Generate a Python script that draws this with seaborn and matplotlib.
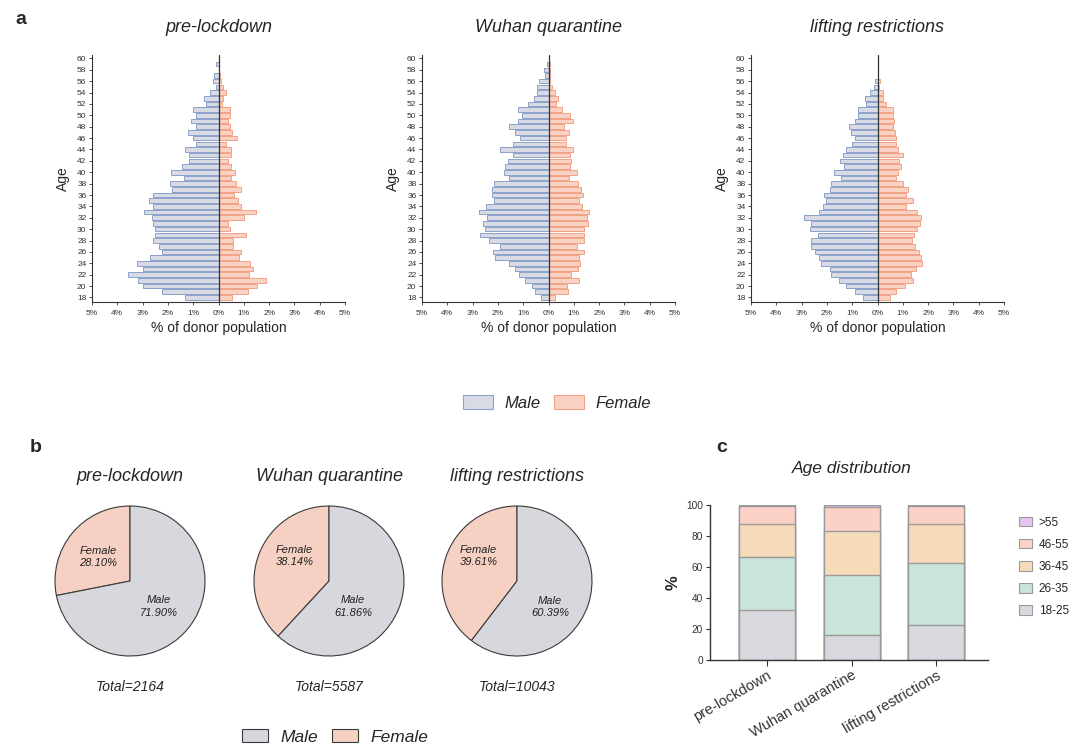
import numpy as np
import seaborn as sns
import matplotlib.pyplot as plt
from matplotlib.patches import Patch

# ---------------- data ----------------
ages = list(range(18, 61))
periods = ['pre-lockdown', 'Wuhan quarantine', 'lifting restrictions']

# % of donor population per age, 18 -> 60
pre_male = [1.32, 2.22, 2.99, 3.17, 3.58, 2.99, 3.21, 2.71, 2.25, 2.34,
            2.57, 2.50, 2.50, 2.57, 2.62, 2.96, 2.57, 2.75, 2.59, 1.83,
            1.93, 1.38, 1.86, 1.43, 1.16, 1.16, 1.32, 0.89, 1.01, 1.21,
            0.87, 1.10, 0.89, 1.01, 0.49, 0.59, 0.32, 0.08, 0.22, 0.18,
            0.00, 0.08, 0.00]
pre_female = [0.54, 1.18, 1.54, 1.87, 1.22, 1.37, 1.26, 0.80, 0.87, 0.58,
              0.58, 1.08, 0.45, 0.37, 0.99, 1.50, 0.87, 0.76, 0.62, 0.89,
              0.70, 0.49, 0.67, 0.49, 0.37, 0.49, 0.49, 0.30, 0.72, 0.55,
              0.45, 0.37, 0.45, 0.45, 0.13, 0.17, 0.30, 0.17, 0.09, 0.04,
              0.00, 0.00, 0.03]
wuhan_male = [0.28, 0.53, 0.64, 0.92, 1.18, 1.34, 1.57, 2.12, 2.18, 1.91,
              2.34, 2.70, 2.50, 2.59, 2.45, 2.74, 2.47, 2.14, 2.25, 2.22,
              2.16, 1.57, 1.76, 1.72, 1.59, 1.41, 1.91, 1.41, 1.14, 1.34,
              1.55, 1.22, 1.03, 1.22, 0.80, 0.57, 0.46, 0.46, 0.37, 0.13,
              0.17, 0.07, 0.00]
wuhan_female = [0.26, 0.78, 0.72, 1.22, 0.89, 1.17, 1.25, 1.21, 1.41, 1.12,
                1.39, 1.42, 1.39, 1.55, 1.51, 1.62, 1.32, 1.22, 1.37, 1.29,
                1.17, 0.82, 1.11, 0.86, 0.89, 0.86, 0.97, 0.70, 0.70, 0.83,
                0.62, 0.96, 0.86, 0.55, 0.30, 0.37, 0.26, 0.13, 0.07, 0.05,
                0.07, 0.07, 0.00]
lift_male = [0.57, 0.89, 1.25, 1.51, 1.84, 1.86, 2.22, 2.30, 2.46, 2.63,
             2.63, 2.37, 2.68, 2.62, 2.92, 2.33, 2.17, 2.03, 2.13, 1.89,
             1.84, 1.46, 1.70, 1.32, 1.50, 1.37, 1.24, 0.99, 0.87, 1.04,
             1.13, 0.88, 0.76, 0.76, 0.46, 0.49, 0.30, 0.12, 0.09, 0.00,
             0.00, 0.00, 0.00]
lift_female = [0.49, 0.74, 1.08, 1.42, 1.33, 1.54, 1.74, 1.72, 1.63, 1.50,
               1.38, 1.45, 1.57, 1.67, 1.70, 1.55, 1.14, 1.41, 1.12, 1.20,
               1.01, 0.75, 0.83, 0.93, 0.86, 1.01, 0.82, 0.75, 0.72, 0.70,
               0.62, 0.66, 0.63, 0.61, 0.32, 0.22, 0.22, 0.04, 0.09, 0.00,
               0.00, 0.00, 0.00]

male_share = [71.90, 61.86, 60.39]
female_share = [28.10, 38.14, 39.61]
totals = [2164, 5587, 10043]

age_groups = ['18-25', '26-35', '36-45', '46-55', '>55']
share_18_25 = [32.0, 15.9, 22.5]
share_26_35 = [34.1, 38.6, 39.9]
share_36_45 = [21.5, 28.3, 25.2]
share_46_55 = [11.3, 15.7, 11.8]
share_over55 = [1.1, 1.5, 0.6]

# ---------------- style ----------------
sns.set_theme(style='ticks')
plt.rcParams['font.family'] = ['Liberation Sans', 'DejaVu Sans']
plt.rcParams['axes.edgecolor'] = '#333333'
plt.rcParams['xtick.color'] = '#333333'
plt.rcParams['ytick.color'] = '#333333'

MALE_FILL, MALE_EDGE = '#d8dbe4', '#8ca1cb'
FEM_FILL, FEM_EDGE = '#f9d2c4', '#f2a287'
PIE_M, PIE_F = '#d7d8de', '#f6d0c2'
group_colors = ['#d8d9de', '#c9e4d9', '#f6dbbb', '#fcd1c8', '#e6c4ef']

W, H = 1081, 745
fig = plt.figure(figsize=(W / 100, H / 100), dpi=100)


def px(left, top, width, height):
    return [left / W, 1 - (top + height) / H, width / W, height / H]


# ---------------- a: pyramids ----------------
pyr_data = [(pre_male, pre_female), (wuhan_male, wuhan_female), (lift_male, lift_female)]
pyr_left = [92, 422, 751]
for left, title, (male, female) in zip(pyr_left, periods, pyr_data):
    ax = fig.add_axes(px(left, 55, 253, 247))
    sns.barplot(x=-np.array(male), y=ages, orient='y', native_scale=True,
                color=MALE_FILL, edgecolor=MALE_EDGE, linewidth=0.7,
                saturation=1, errorbar=None, width=0.8, ax=ax)
    sns.barplot(x=np.array(female), y=ages, orient='y', native_scale=True,
                color=FEM_FILL, edgecolor=FEM_EDGE, linewidth=0.7,
                saturation=1, errorbar=None, width=0.8, ax=ax)
    ax.axvline(0, color='#333333', lw=0.9)
    ax.set_xlim(-5, 5)
    ax.set_xticks(range(-5, 6))
    ax.set_xticklabels([f'{abs(v)}%' for v in range(-5, 6)])
    ax.set_ylim(17.2, 60.6)
    ax.set_yticks(range(18, 61, 2))
    ax.tick_params(labelsize=6, length=2.5, width=0.6, pad=1.5)
    ax.tick_params(axis='x', pad=3)
    for s in ['left', 'bottom']:
        ax.spines[s].set_linewidth(0.8)
    sns.despine(ax=ax)
    ax.set_xlabel('% of donor population', fontsize=10, labelpad=3)
    ax.set_ylabel('Age', fontsize=10, labelpad=5)
    fig.text((left + 126.5) / W, 1 - 28 / H, title, ha='center', va='center',
             fontsize=13, style='italic')

fig.legend(handles=[Patch(facecolor=MALE_FILL, edgecolor=MALE_EDGE, lw=0.8),
                    Patch(facecolor=FEM_FILL, edgecolor=FEM_EDGE, lw=0.8)],
           labels=['Male', 'Female'], loc='center', ncol=2, frameon=False,
           bbox_to_anchor=(557 / W, 1 - 403 / H), prop={'size': 12, 'style': 'italic'},
           handlelength=1.8, handleheight=0.85, handletextpad=0.7, columnspacing=0.8)

# ---------------- b: pies ----------------
pie_cx = [130, 329, 517]
pie_text = [((-0.42, 0.32), (0.38, -0.34)),
            ((-0.46, 0.33), (0.32, -0.34)),
            ((-0.51, 0.33), (0.44, -0.35))]
r = 75
for i, cx in enumerate(pie_cx):
    axp = fig.add_axes(px(cx - r * 1.02, 581 - r * 1.02, 2 * r * 1.02, 2 * r * 1.02))
    axp.pie([female_share[i], male_share[i]], colors=[PIE_F, PIE_M],
            startangle=90, counterclock=True,
            wedgeprops=dict(edgecolor='#3a3a3a', linewidth=0.8))
    axp.set_xlim(-1.02, 1.02)
    axp.set_ylim(-1.02, 1.02)
    (fx, fy), (mx, my) = pie_text[i]
    axp.text(fx, fy, f'Female\n{female_share[i]:.2f}%', ha='center', va='center',
             fontsize=8, style='italic', color='#222222', linespacing=1.3)
    axp.text(mx, my, f'Male\n{male_share[i]:.2f}%', ha='center', va='center',
             fontsize=8, style='italic', color='#222222', linespacing=1.3)
    fig.text(cx / W, 1 - 476.5 / H, periods[i], ha='center', va='center',
             fontsize=13, style='italic')
    fig.text(cx / W, 1 - 687 / H, f'Total={totals[i]}', ha='center', va='center',
             fontsize=10, style='italic')

fig.legend(handles=[Patch(facecolor=PIE_M, edgecolor='#3a3a3a', lw=0.8),
                    Patch(facecolor=PIE_F, edgecolor='#3a3a3a', lw=0.8)],
           labels=['Male', 'Female'], loc='center', ncol=2, frameon=False,
           bbox_to_anchor=(335 / W, 1 - 737 / H), prop={'size': 12.5, 'style': 'italic'},
           handlelength=1.5, handleheight=0.8, handletextpad=0.7, columnspacing=0.8)

# ---------------- c: age distribution ----------------
axc = fig.add_axes(px(710, 504.7, 278, 155.3))
shares = np.array([share_18_25, share_26_35, share_36_45, share_46_55, share_over55])
cum = np.cumsum(shares, axis=0)
for k in range(len(age_groups) - 1, -1, -1):
    sns.barplot(x=periods, y=cum[k], color=group_colors[k], edgecolor='#9a9a9a',
                linewidth=1, saturation=1, errorbar=None, width=0.66, ax=axc)
axc.set_xlim(-0.675, 2.61)
axc.set_ylim(0, 100)
axc.set_yticks(range(0, 101, 20))
axc.tick_params(axis='y', labelsize=7.3, length=3, width=0.8, pad=2)
axc.tick_params(axis='x', labelsize=10.5, length=4, width=0.8, pad=2)
for lab in axc.get_xticklabels():
    lab.set_rotation(30)
    lab.set_ha('right')
    lab.set_rotation_mode('anchor')
axc.set_xlabel('')
axc.set_ylabel('%', fontsize=12, fontweight='bold', labelpad=4)
for s in ['left', 'bottom']:
    axc.spines[s].set_linewidth(1)
sns.despine(ax=axc)
fig.text(852 / W, 1 - 468 / H, 'Age distribution', ha='center', va='center',
         fontsize=12.5, style='italic')

handles = [Patch(facecolor=group_colors[k], edgecolor='#9a9a9a', lw=0.8)
           for k in range(len(age_groups) - 1, -1, -1)]
fig.legend(handles=handles, labels=age_groups[::-1], loc='upper left',
           bbox_to_anchor=(1008 / W, 1 - 506 / H), frameon=False,
           fontsize=8.5, handlelength=1.1, handleheight=0.9, labelspacing=0.85,
           handletextpad=0.6)

# ---------------- panel letters ----------------
fig.text(15 / W, 1 - 20 / H, 'a', fontsize=14, fontweight='bold', va='center')
fig.text(30 / W, 1 - 447 / H, 'b', fontsize=14, fontweight='bold', va='center')
fig.text(716 / W, 1 - 447 / H, 'c', fontsize=14, fontweight='bold', va='center')

fig.savefig('out.png', dpi=100)
